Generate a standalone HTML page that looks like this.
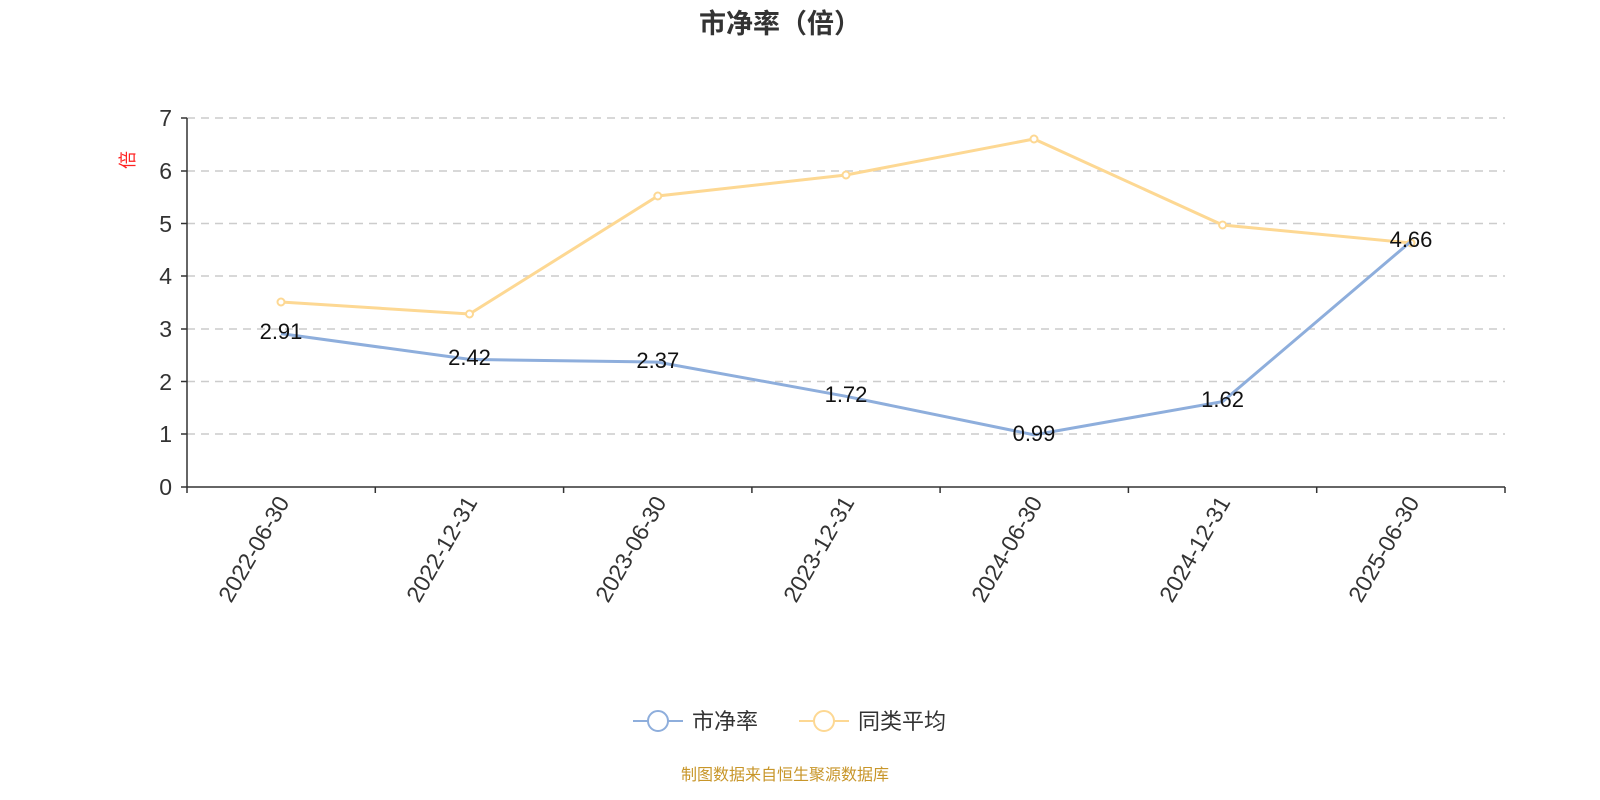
<!DOCTYPE html>
<html><head><meta charset="utf-8"><style>
body{margin:0;background:#fff;}
svg{display:block;font-family:"Liberation Sans","Noto Sans CJK SC",sans-serif;}
</style></head><body>
<svg width="1600" height="800" viewBox="0 0 1600 800">
<text x="780" y="33" text-anchor="middle" font-size="27" font-weight="bold" fill="#333">市净率（倍）</text>
<text transform="translate(134,160) rotate(-90)" text-anchor="middle" font-size="18" fill="#f22">倍</text>
<g stroke="#ccc" stroke-width="1.5" stroke-dasharray="8,6">
<line x1="187" x2="1505" y1="118" y2="118"/><line x1="187" x2="1505" y1="171" y2="171"/>
<line x1="187" x2="1505" y1="223.5" y2="223.5"/><line x1="187" x2="1505" y1="276" y2="276"/>
<line x1="187" x2="1505" y1="329" y2="329"/><line x1="187" x2="1505" y1="381.5" y2="381.5"/>
<line x1="187" x2="1505" y1="434" y2="434"/>
</g>
<g stroke="#333" stroke-width="1.5">
<line x1="187" x2="187" y1="118" y2="487"/>
<line x1="187" x2="1505" y1="487" y2="487"/>
<line x1="181" x2="187" y1="118" y2="118"/><line x1="181" x2="187" y1="171" y2="171"/>
<line x1="181" x2="187" y1="223.5" y2="223.5"/><line x1="181" x2="187" y1="276" y2="276"/>
<line x1="181" x2="187" y1="329" y2="329"/><line x1="181" x2="187" y1="381.5" y2="381.5"/>
<line x1="181" x2="187" y1="434" y2="434"/><line x1="181" x2="187" y1="487" y2="487"/>
<line x1="187" x2="187" y1="487" y2="493"/><line x1="375.3" x2="375.3" y1="487" y2="493"/>
<line x1="563.6" x2="563.6" y1="487" y2="493"/><line x1="751.9" x2="751.9" y1="487" y2="493"/>
<line x1="940.1" x2="940.1" y1="487" y2="493"/><line x1="1128.4" x2="1128.4" y1="487" y2="493"/>
<line x1="1316.7" x2="1316.7" y1="487" y2="493"/><line x1="1505" x2="1505" y1="487" y2="493"/>
</g>
<g font-size="23" fill="#333" text-anchor="end">
<text x="172" y="126">7</text><text x="172" y="179">6</text><text x="172" y="232">5</text>
<text x="172" y="284">4</text><text x="172" y="337">3</text><text x="172" y="390">2</text>
<text x="172" y="442">1</text><text x="172" y="495">0</text>
</g>
<g font-size="23" fill="#333" text-anchor="end">
<text transform="translate(290,502) rotate(-60)">2022-06-30</text>
<text transform="translate(478,502) rotate(-60)">2022-12-31</text>
<text transform="translate(667,502) rotate(-60)">2023-06-30</text>
<text transform="translate(855,502) rotate(-60)">2023-12-31</text>
<text transform="translate(1043,502) rotate(-60)">2024-06-30</text>
<text transform="translate(1231,502) rotate(-60)">2024-12-31</text>
<text transform="translate(1420,502) rotate(-60)">2025-06-30</text>
</g>
<polyline fill="none" stroke="#fdd893" stroke-width="3" points="281,302 469.5,314 657.8,196 846,175 1034,139 1222.6,225 1411,243"/>
<g fill="#fff" stroke="#fdd893" stroke-width="2">
<circle cx="281" cy="302" r="3.5"/><circle cx="469.5" cy="314" r="3.5"/><circle cx="657.8" cy="196" r="3.5"/>
<circle cx="846" cy="175" r="3.5"/><circle cx="1034" cy="139" r="3.5"/><circle cx="1222.6" cy="225" r="3.5"/><circle cx="1411" cy="243" r="3.5"/>
</g>
<polyline fill="none" stroke="#8eaedc" stroke-width="3" points="281,333.6 469.5,359.4 657.8,362.1 846,396.3 1034,434.8 1222.6,401.6 1411,241.4"/>
<g font-size="22" fill="#111" text-anchor="middle">
<text x="281" y="339">2.91</text><text x="469.5" y="365">2.42</text><text x="657.8" y="368">2.37</text>
<text x="846" y="402">1.72</text><text x="1034" y="441">0.99</text><text x="1222.6" y="407">1.62</text><text x="1411" y="247">4.66</text>
</g>
<line x1="633" x2="683" y1="721" y2="721" stroke="#8eaedc" stroke-width="2"/>
<circle cx="658" cy="721" r="10" fill="#fff" stroke="#8eaedc" stroke-width="2"/>
<text x="692" y="729" font-size="22" fill="#333">市净率</text>
<line x1="799" x2="849" y1="721" y2="721" stroke="#fdd893" stroke-width="2"/>
<circle cx="824" cy="721" r="10" fill="#fff" stroke="#fdd893" stroke-width="2"/>
<text x="858" y="729" font-size="22" fill="#333">同类平均</text>
<text x="785" y="780" text-anchor="middle" font-size="16" fill="#c8962a">制图数据来自恒生聚源数据库</text>
</svg>
</body></html>
